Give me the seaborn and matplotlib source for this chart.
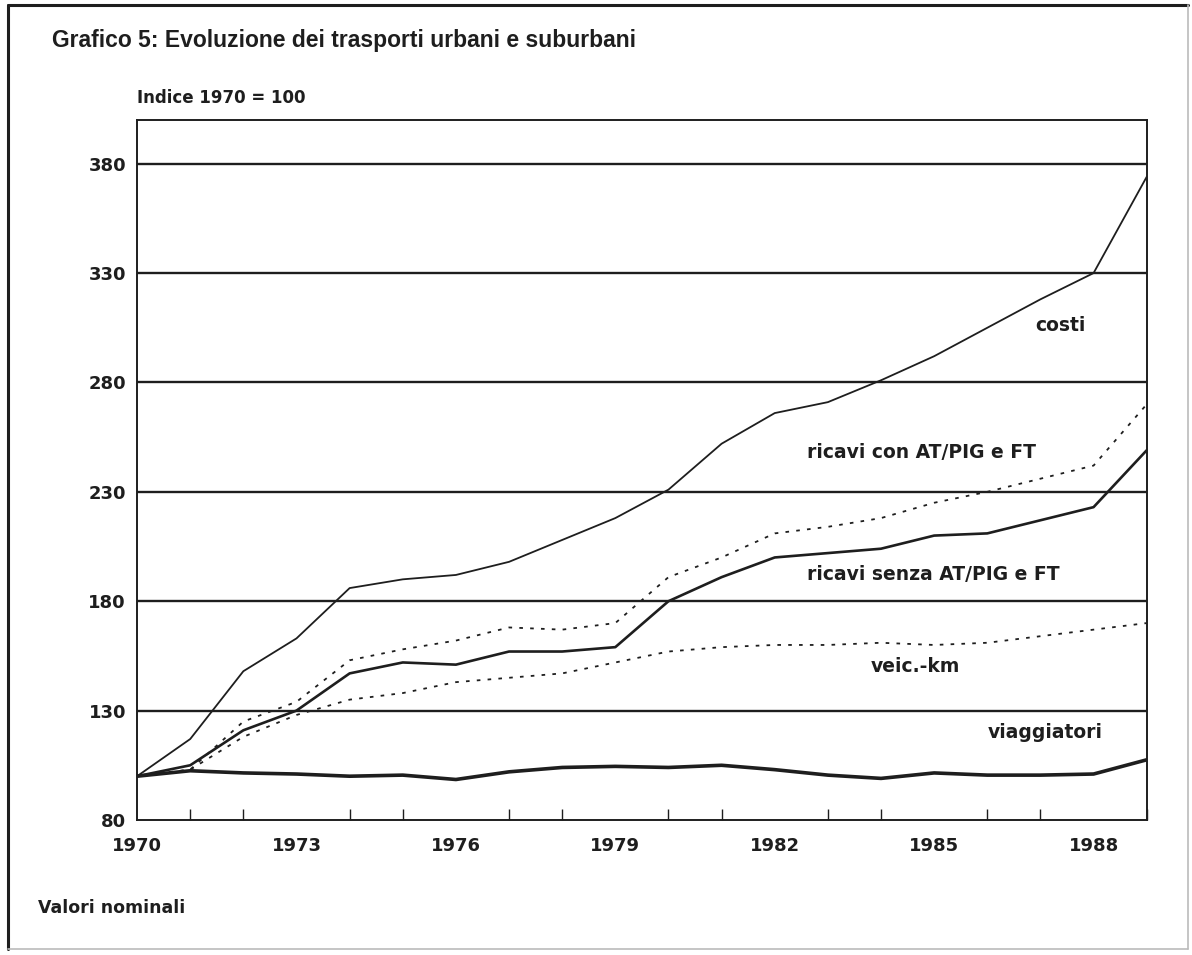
"""
Grafico 5 - Evoluzione dei trasporti urbani e suburbani (indice 1970 = 100).
"""

import matplotlib

matplotlib.use("Agg")

import matplotlib.pyplot as plt
import pandas as pd
import seaborn as sns
from matplotlib.lines import Line2D
from matplotlib.ticker import FixedLocator, MultipleLocator

OUT_PATH = "out.png"

# --- data ---
years = list(range(1970, 1990))
costi = [100, 117, 148, 163, 186, 190, 192, 198, 208, 218,
         231, 252, 266, 271, 281, 292, 305, 318, 330, 374]
ricavi_senza = [100, 105, 121, 130, 147, 152, 151, 157, 157, 159,
                180, 191, 200, 202, 204, 210, 211, 217, 223, 249]
ricavi_con = [100, 103, 125, 134, 153, 158, 162, 168, 167, 170,
              191, 200, 211, 214, 218, 225, 230, 236, 242, 270]
veic_km = [100, 103, 118, 128, 135, 138, 143, 145, 147, 152,
           157, 159, 160, 160, 161, 160, 161, 164, 167, 170]
viaggiatori = [100, 102.5, 101.5, 101, 100, 100.5, 98.5, 102, 104, 104.5,
               104, 105, 103, 100.5, 99, 101.5, 100.5, 100.5, 101, 107.5]

y_ticks = [80, 130, 180, 230, 280, 330, 380]
x_major = [1970, 1973, 1976, 1979, 1982, 1985, 1988]

series_labels = {
    "costi": "costi",
    "ricavi_con": "ricavi con AT/PIG e FT",
    "ricavi_senza": "ricavi senza AT/PIG e FT",
    "veic_km": "veic.-km",
    "viaggiatori": "viaggiatori",
}

# line styles and label anchors (year, value)
styles = {
    "costi": dict(lw=1.3, ls="-"),
    "ricavi_con": dict(lw=1.3, ls=(0, (2, 4))),
    "ricavi_senza": dict(lw=1.9, ls="-"),
    "veic_km": dict(lw=1.3, ls=(0, (2, 4))),
    "viaggiatori": dict(lw=2.6, ls="-"),
}
label_pos = {
    "costi": (1986.9, 306),
    "ricavi_con": (1982.6, 248),
    "ricavi_senza": (1982.6, 192),
    "veic_km": (1983.8, 150),
    "viaggiatori": (1986.0, 120),
}

INK = "#1e1e1e"


def main() -> None:
    sns.set_style("white")
    plt.rcParams["font.family"] = ["DejaVu Sans"]

    df = pd.DataFrame({
        "anno": years,
        "costi": costi,
        "ricavi_con": ricavi_con,
        "ricavi_senza": ricavi_senza,
        "veic_km": veic_km,
        "viaggiatori": viaggiatori,
    })

    fig = plt.figure(figsize=(11.92, 9.55), dpi=100)
    ax = fig.add_axes([0.115, 0.1414, 0.847, 0.733])

    # horizontal rules
    for v in y_ticks[1:]:
        ax.axhline(v, color=INK, lw=1.7, zorder=1)

    for key in series_labels:
        sns.lineplot(data=df, x="anno", y=key, ax=ax, color=INK,
                     errorbar=None, zorder=3, **styles[key])
        lx, ly = label_pos[key]
        ax.text(lx, ly, series_labels[key], ha="left", va="center",
                fontsize=13.5, fontweight="bold", color=INK)

    ax.set_xlim(1970, 1989)
    ax.set_ylim(80, 400)
    ax.set_xlabel("")
    ax.set_ylabel("")

    ax.xaxis.set_major_locator(FixedLocator(x_major))
    ax.xaxis.set_minor_locator(MultipleLocator(1))
    ax.set_xticklabels([str(x) for x in x_major])
    ax.set_yticks(y_ticks)
    ax.set_yticklabels([str(y) for y in y_ticks])

    ax.tick_params(axis="x", which="major", direction="inout", length=17,
                   width=1.0, color=INK, pad=4, labelsize=13, labelcolor=INK)
    ax.tick_params(axis="x", which="minor", direction="in", length=8,
                   width=1.0, color=INK, bottom=True)
    ax.tick_params(axis="y", length=0, pad=8, labelsize=13, labelcolor=INK)
    for lab in ax.get_xticklabels() + ax.get_yticklabels():
        lab.set_fontweight("bold")

    for side in ("left", "right", "top", "bottom"):
        ax.spines[side].set_visible(True)
        ax.spines[side].set_color(INK)
        ax.spines[side].set_linewidth(1.4)

    # title and notes
    fig.text(0.0436, 0.958, "Grafico 5: Evoluzione dei trasporti urbani e suburbani",
             ha="left", va="center", fontsize=16.5, fontweight="bold", color=INK,
             family=["Liberation Sans", "DejaVu Sans"])
    fig.text(0.115, 0.897, "Indice 1970 = 100", ha="left", va="center",
             fontsize=12, fontweight="bold", color=INK)
    fig.text(0.032, 0.049, "Valori nominali", ha="left", va="center",
             fontsize=12.5, fontweight="bold", color=INK)

    # scanned page frame
    fig.add_artist(Line2D([0.007, 0.007], [0.006, 0.995], color=INK, lw=2.2))
    fig.add_artist(Line2D([0.007, 0.997], [0.995, 0.995], color=INK, lw=2.2))
    fig.add_artist(Line2D([0.997, 0.997], [0.006, 0.995], color="#bbbbbb", lw=1.2))
    fig.add_artist(Line2D([0.007, 0.997], [0.006, 0.006], color="#bbbbbb", lw=1.2))

    fig.savefig(OUT_PATH, dpi=100)
    plt.close(fig)


if __name__ == "__main__":
    main()
